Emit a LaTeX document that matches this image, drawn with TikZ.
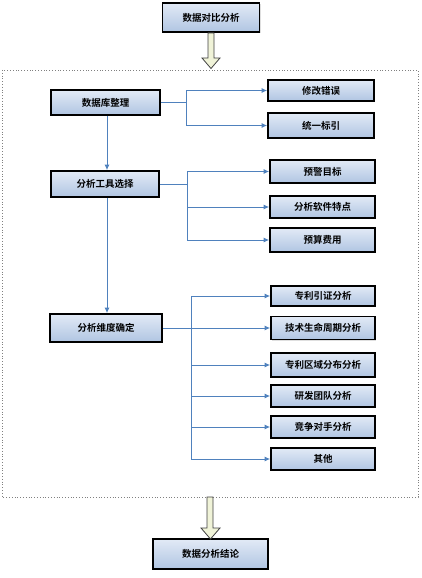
\documentclass[tikz,border=0pt]{standalone}
\usepackage{fontspec}
\newfontfamily\cjk{Noto Sans CJK SC}[BoldFont={Noto Sans CJK SC Bold}]
\usetikzlibrary{arrows.meta,shadows}
\definecolor{linkblue}{RGB}{79,129,189}
\definecolor{boxtop}{RGB}{226,234,246}
\definecolor{boxbot}{RGB}{176,197,226}
\definecolor{hollowfill}{RGB}{240,243,216}
\begin{document}
\begin{tikzpicture}[x=1pt,y=-1pt,
  box/.style={draw=black, line width=1.6pt, top color=boxtop, bottom color=boxbot,
    font=\cjk\bfseries\fontsize{9.5}{11}\selectfont, inner sep=0pt,
    drop shadow={opacity=0.25, shadow xshift=1.2pt, shadow yshift=-1.2pt}},
  conn/.style={draw=linkblue, line width=1pt},
  arr/.style={conn, -{Latex[length=5.5pt,width=5pt]}},
  hollow/.style={draw=black!75, line width=0.8pt, fill=hollowfill}]
\useasboundingbox (0,0) rectangle (422,578);
% dotted frame
\draw[gray, dotted, line width=0.8pt] (2,70) rectangle (418,497);
% top and bottom boxes
\node[box, minimum width=97pt, minimum height=29pt] (top) at (211,17.5) {数据对比分析};
\node[box, minimum width=115pt, minimum height=30pt] (bot) at (210.5,554) {数据分析结论};
% hollow arrows
\draw[hollow] (208,33) -- (214,33) -- (214,58) -- (220,58) -- (211,68.5) -- (202,58) -- (208,58) -- cycle;
\draw[hollow] (207,497) -- (213,497) -- (213,528) -- (220,528) -- (210.5,539) -- (201,528) -- (207,528) -- cycle;
% left column
\node[box, minimum width=109pt, minimum height=25pt] (db) at (105.5,102.5) {数据库整理};
\node[box, minimum width=108pt, minimum height=26pt] (tools) at (105,184) {分析工具选择};
\node[box, minimum width=112pt, minimum height=28pt] (dims) at (106,328) {分析维度确定};
% right column
\node[box, minimum width=106pt, minimum height=21pt] (e1) at (321,90.5) {修改错误};
\node[box, minimum width=106pt, minimum height=25pt] (e2) at (321,125.5) {统一标引};
\node[box, minimum width=105pt, minimum height=23pt] (t1) at (322.5,171.5) {预警目标};
\node[box, minimum width=105pt, minimum height=22pt] (t2) at (322.5,207) {分析软件特点};
\node[box, minimum width=105pt, minimum height=24pt] (t3) at (322.5,240) {预算费用};
\node[box, minimum width=104pt, minimum height=20pt] (d1) at (323,296) {专利引证分析};
\node[box, minimum width=104pt, minimum height=23pt] (d2) at (323,328) {技术生命周期分析};
\node[box, minimum width=104pt, minimum height=24pt] (d3) at (323,365) {专利区域分布分析};
\node[box, minimum width=104pt, minimum height=22pt] (d4) at (323,396) {研发团队分析};
\node[box, minimum width=104pt, minimum height=22pt] (d5) at (323,427) {竞争对手分析};
\node[box, minimum width=104pt, minimum height=22pt] (d6) at (323,459) {其他};
% vertical flow
\draw[arr] (db.south -| 107,0) -- (tools.north -| 107,0);
\draw[arr] (tools.south -| 107,0) -- (dims.north -| 107,0);
% branches
\coordinate (bx1) at (186,0);
\coordinate (bx2) at (187,0);
\coordinate (bx3) at (191.5,0);
\draw[arr] (db.east) -- (db.east -| bx1) |- (e1.west);
\draw[arr] (db.east) -- (db.east -| bx1) |- (e2.west);
\draw[arr] (tools.east) -- (tools.east -| bx2) |- (t1.west);
\draw[arr] (tools.east) -- (tools.east -| bx2) |- (t2.west);
\draw[arr] (tools.east) -- (tools.east -| bx2) |- (t3.west);
\draw[arr] (dims.east) -- (d2.west);
\draw[arr] (dims.east -| bx3) |- (d1.west);
\draw[arr] (dims.east -| bx3) |- (d3.west);
\draw[arr] (dims.east -| bx3) |- (d4.west);
\draw[arr] (dims.east -| bx3) |- (d5.west);
\draw[arr] (dims.east -| bx3) |- (d6.west);
\end{tikzpicture}
\end{document}
